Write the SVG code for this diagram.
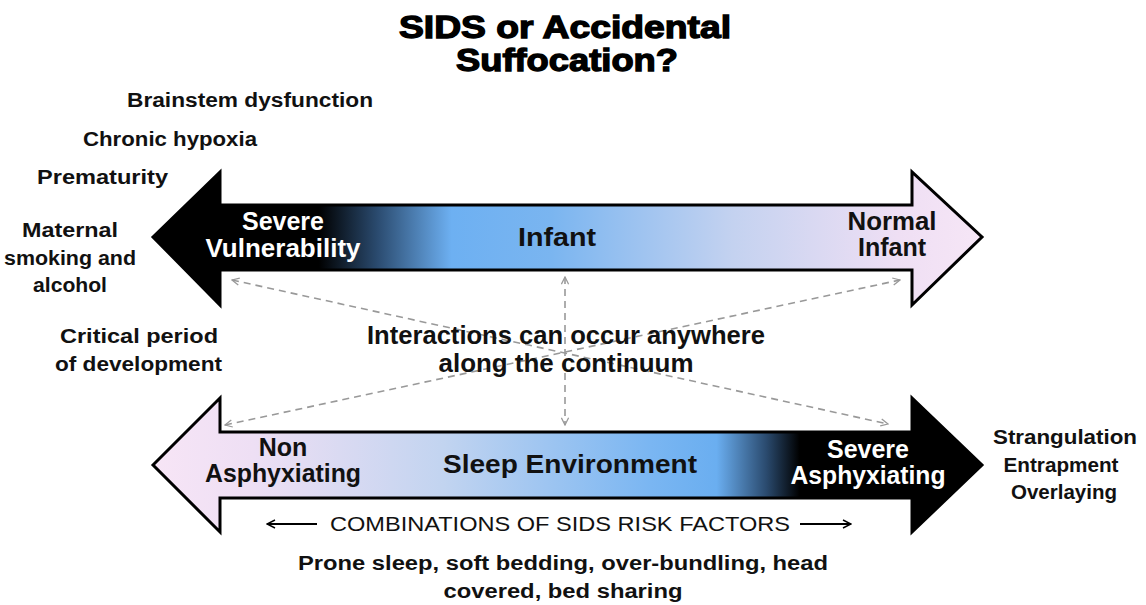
<svg xmlns="http://www.w3.org/2000/svg" width="1146" height="605" viewBox="0 0 1146 605">
<defs>
<linearGradient id="gTop" gradientUnits="userSpaceOnUse" x1="153" y1="0" x2="982" y2="0">
<stop offset="0" stop-color="#000"/>
<stop offset="0.2" stop-color="#000"/>
<stop offset="0.27" stop-color="#2a4a6e"/>
<stop offset="0.36" stop-color="#6db0f2"/>
<stop offset="0.48" stop-color="#7ab5f0"/>
<stop offset="0.7" stop-color="#c4d2f0"/>
<stop offset="0.9" stop-color="#efdff4"/>
<stop offset="1" stop-color="#f6e6f6"/>
</linearGradient>
<linearGradient id="gBot" gradientUnits="userSpaceOnUse" x1="153" y1="0" x2="982" y2="0">
<stop offset="0" stop-color="#f7e5f6"/>
<stop offset="0.12" stop-color="#eedff4"/>
<stop offset="0.35" stop-color="#c2d4f0"/>
<stop offset="0.6" stop-color="#7ab6f2"/>
<stop offset="0.68" stop-color="#6aaef0"/>
<stop offset="0.74" stop-color="#2a4a6e"/>
<stop offset="0.78" stop-color="#000"/>
<stop offset="1" stop-color="#000"/>
</linearGradient>
<marker id="dh" viewBox="0 0 10 10" refX="9" refY="5" markerWidth="9" markerHeight="9" orient="auto-start-reverse" markerUnits="userSpaceOnUse">
<path d="M1,1 L9,5 L1,9" fill="none" stroke="#999" stroke-width="1.4"/>
</marker>
<marker id="lh" viewBox="0 0 10 10" refX="9" refY="5" markerWidth="10" markerHeight="10" orient="auto-start-reverse" markerUnits="userSpaceOnUse">
<path d="M1,1 L9,5 L1,9" fill="none" stroke="#000" stroke-width="1.5"/>
</marker>
</defs>
<style>
.cm{font-family:"Liberation Sans","DejaVu Sans",sans-serif;font-weight:bold;font-size:20px;fill:#111}
.cb{font-family:"Liberation Sans","DejaVu Sans",sans-serif;font-weight:bold;font-size:25px;fill:#111}
.w{fill:#fff}
.ttl{font-family:"Liberation Sans",Arial,sans-serif;font-weight:900;font-size:31px;fill:#000;stroke:#000;stroke-width:1.3}
.arrow{stroke:#000;stroke-width:3;stroke-linejoin:miter}
.dash{stroke:#999;stroke-width:1.6;stroke-dasharray:7,5;fill:none}
</style>
<rect width="1146" height="605" fill="#fff"/>
<g id="title">
<text class="ttl" x="565" y="38" text-anchor="middle" textLength="332" lengthAdjust="spacingAndGlyphs">SIDS or Accidental</text>
<text class="ttl" x="567" y="71" text-anchor="middle" textLength="222" lengthAdjust="spacingAndGlyphs">Suffocation?</text>
</g>
<g id="infant-arrow">
<path class="arrow" fill="url(#gTop)" d="M153,237 L220,172 L220,205 L912,205 L912,172 L982,237 L912,305 L912,270 L220,270 L220,305 Z"/>
<text class="cb w" x="283" y="230" text-anchor="middle">Severe</text>
<text class="cb w" x="283" y="257" text-anchor="middle" textLength="155" lengthAdjust="spacingAndGlyphs">Vulnerability</text>
<text class="cb" x="557" y="246" text-anchor="middle" textLength="78" lengthAdjust="spacingAndGlyphs">Infant</text>
<text class="cb" x="892" y="230" text-anchor="middle" textLength="89" lengthAdjust="spacingAndGlyphs">Normal</text>
<text class="cb" x="892" y="256" text-anchor="middle">Infant</text>
</g>
<g id="sleep-arrow">
<path class="arrow" fill="url(#gBot)" d="M153,465 L220,398 L220,432 L912,432 L912,398 L982,465 L912,532 L912,498 L220,498 L220,532 Z"/>
<text class="cb" x="283" y="456" text-anchor="middle">Non</text>
<text class="cb" x="283" y="482" text-anchor="middle" textLength="156" lengthAdjust="spacingAndGlyphs">Asphyxiating</text>
<text class="cb" x="570" y="473" text-anchor="middle" textLength="254" lengthAdjust="spacingAndGlyphs">Sleep Environment</text>
<text class="cb w" x="868" y="458" text-anchor="middle">Severe</text>
<text class="cb w" x="868" y="484" text-anchor="middle" textLength="155" lengthAdjust="spacingAndGlyphs">Asphyxiating</text>
</g>
<g id="connectors">
<line class="dash" x1="232" y1="280" x2="888" y2="424" marker-start="url(#dh)" marker-end="url(#dh)"/>
<line class="dash" x1="225" y1="425" x2="900" y2="280" marker-start="url(#dh)" marker-end="url(#dh)"/>
<line class="dash" x1="565" y1="277" x2="565" y2="425" marker-start="url(#dh)" marker-end="url(#dh)"/>
</g>
<g id="interactions">
<text class="cb" x="566" y="344" text-anchor="middle" textLength="398" lengthAdjust="spacingAndGlyphs">Interactions can occur anywhere</text>
<text class="cb" x="566" y="372" text-anchor="middle" textLength="255" lengthAdjust="spacingAndGlyphs">along the continuum</text>
</g>
<g id="vulnerability-factors">
<text class="cm" x="127" y="107" textLength="246" lengthAdjust="spacingAndGlyphs">Brainstem dysfunction</text>
<text class="cm" x="83" y="146" textLength="174" lengthAdjust="spacingAndGlyphs">Chronic hypoxia</text>
<text class="cm" x="37" y="184" textLength="131" lengthAdjust="spacingAndGlyphs">Prematurity</text>
<text class="cm" x="70" y="237" text-anchor="middle" textLength="96" lengthAdjust="spacingAndGlyphs">Maternal</text>
<text class="cm" x="70" y="265" text-anchor="middle" textLength="132" lengthAdjust="spacingAndGlyphs">smoking and</text>
<text class="cm" x="70" y="292" text-anchor="middle" textLength="74" lengthAdjust="spacingAndGlyphs">alcohol</text>
<text class="cm" x="218" y="343" text-anchor="end" textLength="158" lengthAdjust="spacingAndGlyphs">Critical period</text>
<text class="cm" x="222" y="371" text-anchor="end" textLength="167" lengthAdjust="spacingAndGlyphs">of development</text>
</g>
<g id="asphyxia-factors">
<text class="cm" x="1065" y="444" text-anchor="middle" textLength="144" lengthAdjust="spacingAndGlyphs">Strangulation</text>
<text class="cm" x="1061" y="472" text-anchor="middle" textLength="115" lengthAdjust="spacingAndGlyphs">Entrapment</text>
<text class="cm" x="1064" y="499" text-anchor="middle" textLength="106" lengthAdjust="spacingAndGlyphs">Overlaying</text>
</g>
<g id="combinations">
<line x1="267" y1="524" x2="317" y2="524" stroke="#000" stroke-width="1.8" marker-start="url(#lh)"/>
<text x="560" y="531" text-anchor="middle" font-family="Liberation Sans,sans-serif" font-size="21" fill="#111" textLength="460" lengthAdjust="spacingAndGlyphs">COMBINATIONS OF SIDS RISK FACTORS</text>
<line x1="800" y1="524" x2="851" y2="524" stroke="#000" stroke-width="1.8" marker-end="url(#lh)"/>
</g>
<g id="sleep-factors">
<text class="cm" x="563" y="570" text-anchor="middle" textLength="530" lengthAdjust="spacingAndGlyphs">Prone sleep, soft bedding, over-bundling, head</text>
<text class="cm" x="563" y="598" text-anchor="middle" textLength="239" lengthAdjust="spacingAndGlyphs">covered, bed sharing</text>
</g>
</svg>
